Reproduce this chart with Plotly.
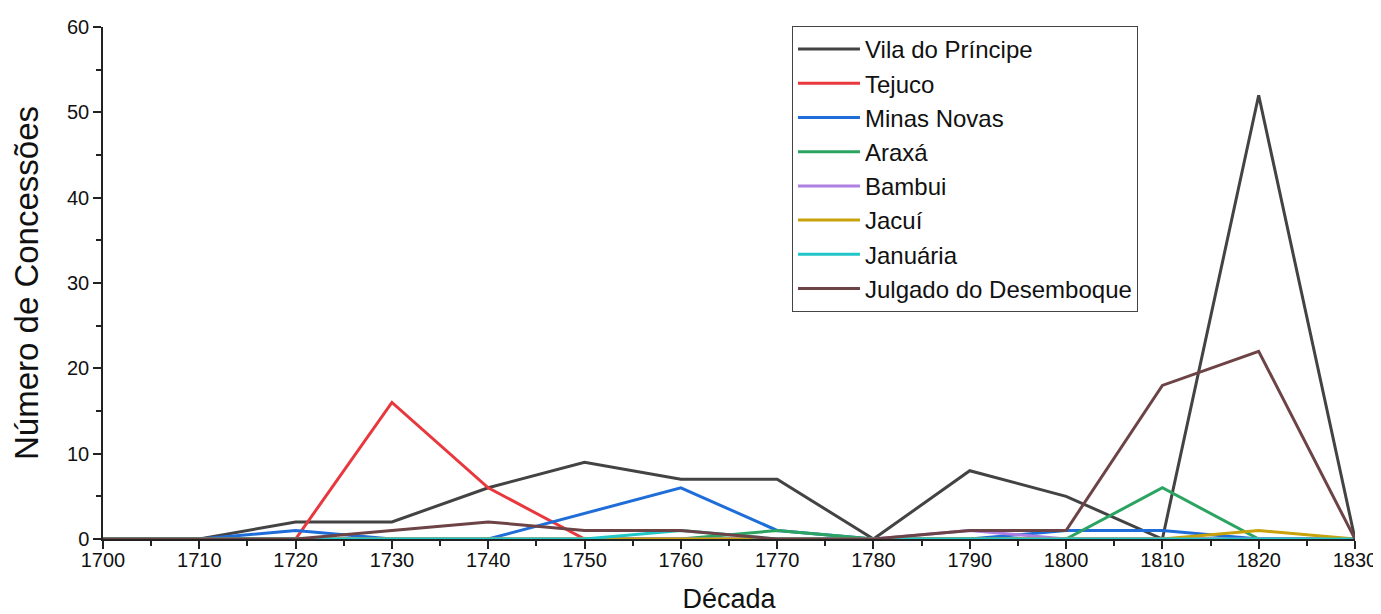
import plotly.graph_objects as go

decades = [1700, 1710, 1720, 1730, 1740, 1750, 1760, 1770, 1780, 1790, 1800, 1810, 1820, 1830]

vila_do_principe = [0, 0, 2, 2, 6, 9, 7, 7, 0, 8, 5, 0, 52, 0]
tejuco = [0, 0, 0, 16, 6, 0, 0, 0, 0, 0, 0, 0, 0, 0]
minas_novas = [0, 0, 1, 0, 0, 3, 6, 1, 0, 0, 1, 1, 0, 0]
araxa = [0, 0, 0, 0, 0, 0, 0, 1, 0, 0, 0, 6, 0, 0]
bambui = [0, 0, 0, 0, 0, 0, 0, 0, 0, 1, 0, 0, 0, 0]
jacui = [0, 0, 0, 0, 0, 0, 0, 0, 0, 0, 0, 0, 1, 0]
januaria = [0, 0, 0, 0, 0, 0, 1, 0, 0, 0, 0, 0, 0, 0]
julgado = [0, 0, 0, 1, 2, 1, 1, 0, 0, 1, 1, 18, 22, 0]

series_names = ["Vila do Príncipe", "Tejuco", "Minas Novas", "Araxá", "Bambui",
                "Jacuí", "Januária", "Julgado do Desemboque"]
series_values = [vila_do_principe, tejuco, minas_novas, araxa, bambui, jacui, januaria, julgado]
series_colors = ["#434343", "#E8383D", "#1F6DD8", "#2BA462", "#B07FE2",
                 "#C9A10B", "#22C6C8", "#6D4346"]

fig = go.Figure()
for i, (name, vals, col) in enumerate(zip(series_names, series_values, series_colors)):
    fig.add_trace(go.Scatter(
        x=decades, y=vals, mode="lines", name=name,
        line=dict(color=col, width=3),
        cliponaxis=False,
    ))

font_family = "Liberation Sans, Arial, sans-serif"
# The page body adds an 8px offset, so the figure is sized and margined to compensate.
fig.update_layout(
    width=1373, height=606,
    paper_bgcolor="white", plot_bgcolor="white",
    margin=dict(l=95, r=26, t=19, b=75),
    font=dict(family=font_family, color="#111111"),
    showlegend=True,
    legend=dict(
        x=0.5503, y=1.002, xanchor="left", yanchor="top",
        bordercolor="#444444", borderwidth=1, bgcolor="rgba(255,255,255,0)",
        font=dict(size=24, family=font_family, color="#111111"),
        tracegroupgap=0, itemwidth=62,
    ),
    xaxis=dict(
        range=[1700, 1830], tickmode="linear", tick0=1700, dtick=10,
        showgrid=False, zeroline=False, showline=True, linecolor="#222222", linewidth=1.5,
        ticks="outside", ticklen=8, tickwidth=1.5, tickcolor="#222222",
        tickfont=dict(size=20), automargin=False, ticklabelstandoff=-6,
        minor=dict(dtick=5, ticks="outside", ticklen=5, tickwidth=1.5, tickcolor="#222222"),
        title=dict(text="Década", font=dict(size=27), standoff=27),
    ),
    yaxis=dict(
        range=[0, 60], tickmode="linear", tick0=0, dtick=10,
        showgrid=False, zeroline=False, showline=True, linecolor="#222222", linewidth=1.5,
        ticks="outside", ticklen=8, tickwidth=1.5, tickcolor="#222222",
        tickfont=dict(size=20), automargin=False,
        minor=dict(dtick=5, ticks="outside", ticklen=5, tickwidth=1.5, tickcolor="#222222"),
        title=dict(text="Número de Concessões", font=dict(size=33), standoff=25),
    ),
)

fig.write_html("out.html")
